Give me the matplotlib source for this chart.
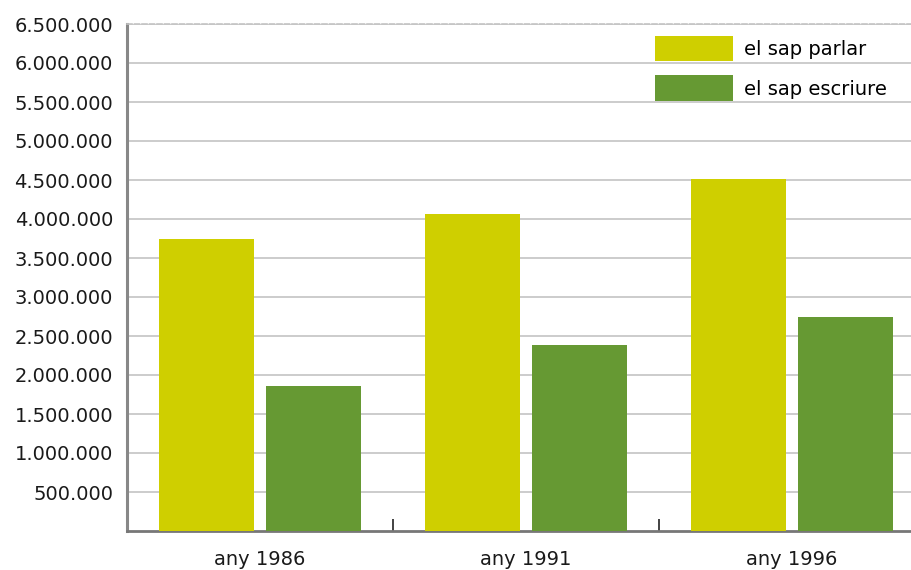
import matplotlib
matplotlib.use("Agg")
import matplotlib.pyplot as plt
import numpy as np
from matplotlib.ticker import FuncFormatter, FixedLocator
from matplotlib.patches import Patch

categories = ["any 1986", "any 1991", "any 1996"]
series_names = ["el sap parlar", "el sap escriure"]
parlar = [3750000, 4070000, 4510000]
escriure = [1860000, 2380000, 2750000]
yticks = [500000 * i for i in range(1, 14)]

col_parlar = "#CFCF00"
col_escriure = "#669933"

fig = plt.figure(figsize=(9.11, 5.70), dpi=100)
ax = fig.add_axes([127 / 911, 39 / 570, 1 - 127 / 911, (531 - 24) / 570])

x = np.arange(len(categories))
w = 0.357
ax.bar(x - 0.2, parlar, w, color=col_parlar, zorder=3)
ax.bar(x + 0.2, escriure, w, color=col_escriure, zorder=3)

ax.set_xlim(-0.5, (911 - 127) / 266 - 0.5)
ax.set_ylim(0, 6500000)

ax.set_yticks(yticks)
ax.yaxis.set_major_formatter(FuncFormatter(lambda v, p: f"{int(v):,}".replace(",", ".")))
ax.tick_params(axis="y", length=0, pad=10, labelsize=14, labelcolor="#1a1a1a")
ax.yaxis.grid(True, color="#c4c4c4", linewidth=1.2, zorder=0)

ax.set_xticks(x)
ax.set_xticklabels(categories)
ax.tick_params(axis="x", which="major", length=0, pad=14, labelsize=14, labelcolor="#1a1a1a")
ax.xaxis.set_minor_locator(FixedLocator([0.5, 1.5]))
ax.tick_params(axis="x", which="minor", direction="in", length=9, width=1.2, color="#222222")

ax.spines["right"].set_visible(False)
ax.spines["top"].set_color("#c4c4c4")
ax.spines["top"].set_linestyle((0, (3, 1.5)))
ax.spines["top"].set_linewidth(1.2)
ax.spines["left"].set_color("#888888")
ax.spines["left"].set_linewidth(2.2)
ax.spines["bottom"].set_color("#777777")
ax.spines["bottom"].set_linewidth(2.0)

handles = [Patch(facecolor=col_parlar), Patch(facecolor=col_escriure)]
ax.legend(handles, series_names, loc="upper left", bbox_to_anchor=((647 - 127) / 784, 1 - 4 / 507),
          frameon=False, fontsize=14, handlelength=4.0, handleheight=1.65,
          handletextpad=0.6, labelspacing=0.72, borderaxespad=0)

fig.savefig("out.png", dpi=100)
